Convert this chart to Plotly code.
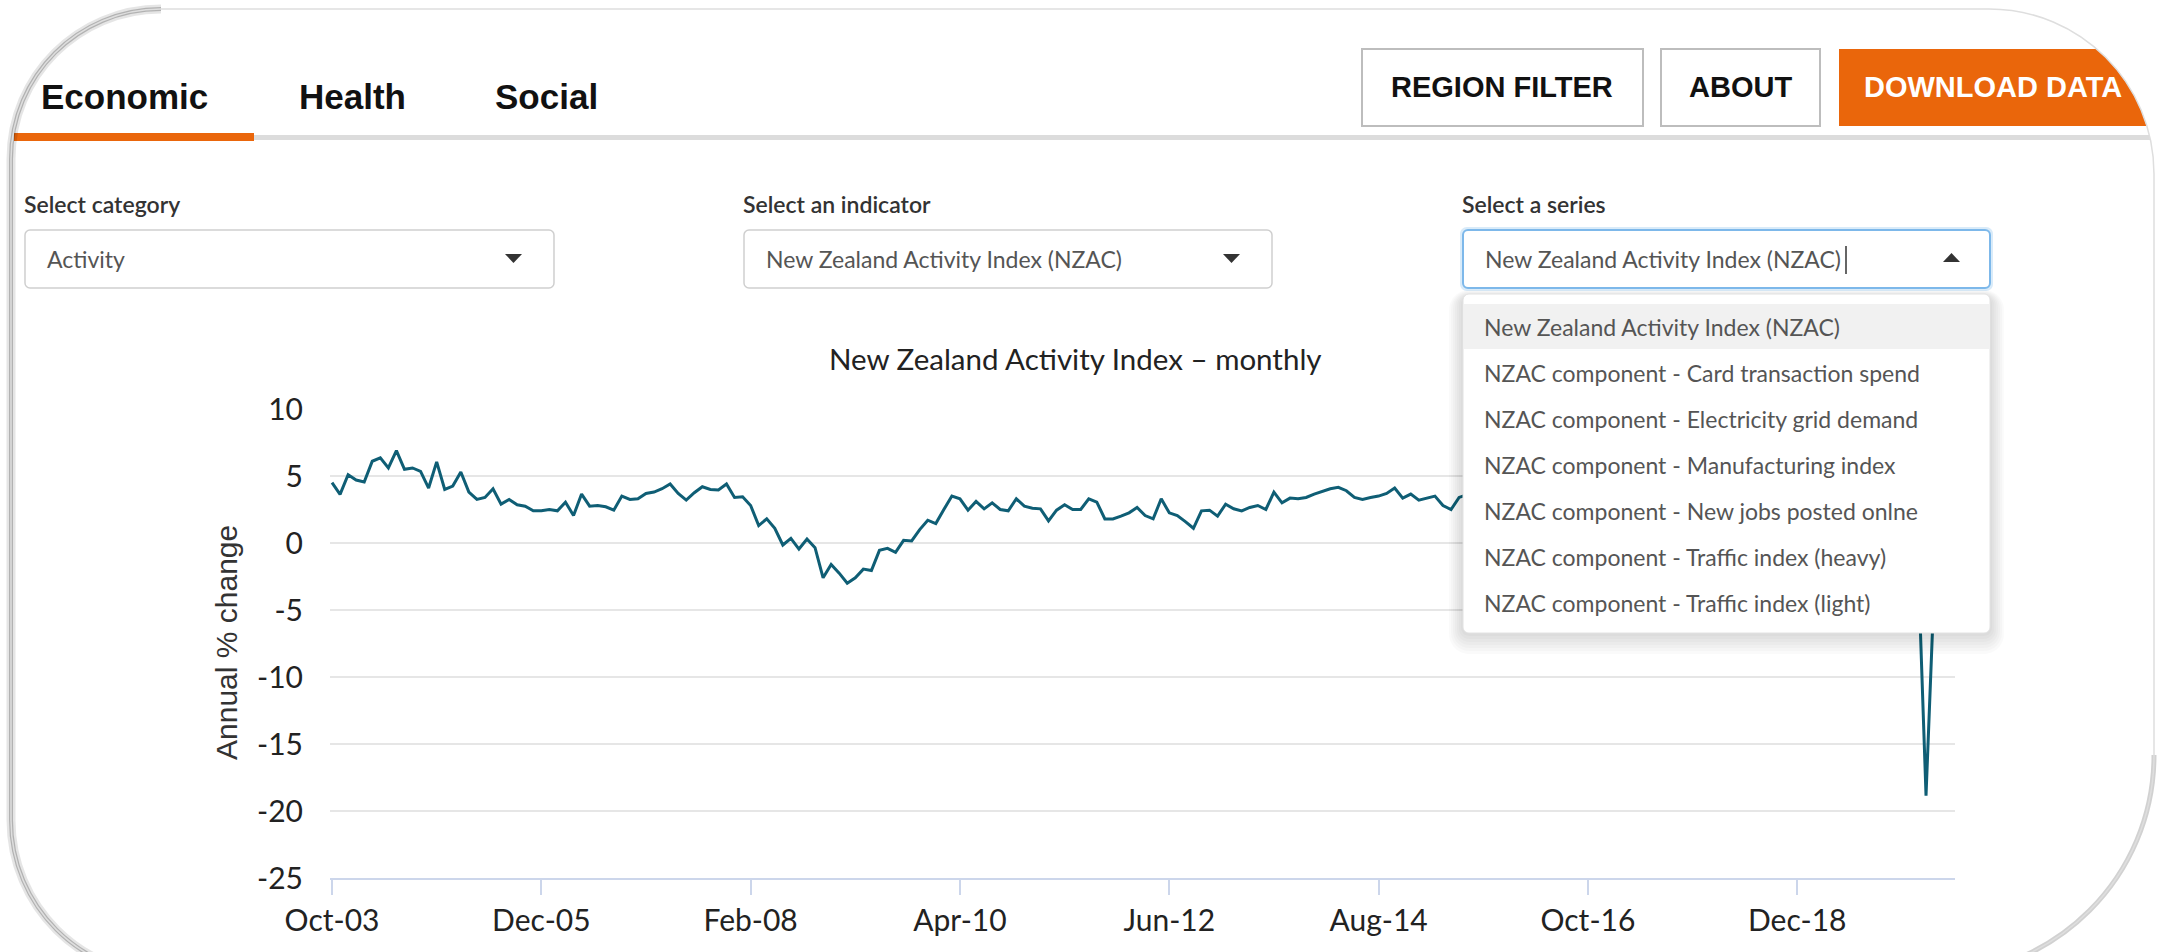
import pandas as pd
import plotly.graph_objects as go

# ---------------- data ----------------
nzac_values = [
    4.5, 3.63, 5.1, 4.7, 4.55, 6.1, 6.35, 5.6, 6.9, 5.5, 5.6, 5.35, 4.1, 6.05, 4.0, 4.25,
    5.3, 3.8, 3.25, 3.4, 4.05, 2.9, 3.25, 2.85, 2.75, 2.4, 2.4, 2.5, 2.4, 3.05, 2.05, 3.65,
    2.75, 2.8, 2.7, 2.45, 3.5, 3.25, 3.3, 3.7, 3.8, 4.05, 4.4, 3.7, 3.2, 3.75, 4.2, 4.0,
    3.95, 4.4, 3.4, 3.45, 2.8, 1.3, 1.8, 1.1, -0.15, 0.35, -0.45, 0.3, -0.35, -2.6, -1.6, -2.25,
    -3.0, -2.6, -1.95, -2.05, -0.55, -0.4, -0.7, 0.2, 0.15, 1.0, 1.7, 1.45, 2.5, 3.5, 3.3, 2.45,
    3.1, 2.55, 3.0, 2.5, 2.4, 3.3, 2.75, 2.6, 2.55, 1.65, 2.45, 2.85, 2.5, 2.5, 3.3,
    3.05, 1.8, 1.8, 2.0, 2.25, 2.65, 2.05, 1.8, 3.3, 2.25, 2.05, 1.6, 1.1, 2.4, 2.45, 2.0,
    2.9, 2.55, 2.4, 2.65, 2.8, 2.5, 3.8, 3.0, 3.35, 3.3, 3.4, 3.65, 3.85, 4.05, 4.15, 3.9,
    3.4, 3.25, 3.4, 3.5, 3.7, 4.1, 3.35, 3.65, 3.2, 3.35, 3.5, 2.8, 2.5, 3.4,
    3.6, 3.2, 3.8, 3.5, 3.9, 3.4, 3.7, 4.0, 3.6, 3.3, 3.8, 3.5, 3.9, 3.4, 3.6, 3.2,
    3.5, 3.1, 3.4, 3.0, 3.3, 2.9, 3.2, 2.8, 3.1, 2.7, 3.0, 2.6, 2.9, 3.2, 2.8, 2.5,
    2.9, 2.6, 2.4, 2.8, 2.5, 2.2, 2.6, 2.3, 2.7, 2.4, 2.1, 2.5, 2.2, 2.6, 2.3, 2.0,
    2.4, 2.1, 2.5, 2.2, 2.0, 2.3, 1.9, 1.6, -1.2, -18.85, -3.5,
]
month_labels = list(pd.date_range("2003-10-01", periods=len(nzac_values), freq="MS").strftime("%b-%y"))
x_tick_labels = ["Oct-03", "Dec-05", "Feb-08", "Apr-10", "Jun-12", "Aug-14", "Oct-16", "Dec-18"]
y_tick_values = [-25, -20, -15, -10, -5, 0, 5, 10]
y_tick_labels = ["-25", "-20", "-15", "-10", "-5", "0", "5", "10"]

chart_title = "New Zealand Activity Index \u2013 monthly"
y_title = "Annual % change"
tabs = ["Economic", "Health", "Social"]
buttons = ["REGION FILTER", "ABOUT", "DOWNLOAD DATA"]
select_labels = ["Select category", "Select an indicator", "Select a series"]
select_values = ["Activity", "New Zealand Activity Index (NZAC)", "New Zealand Activity Index (NZAC)"]
series_options = [
    "New Zealand Activity Index (NZAC)",
    "NZAC component - Card transaction spend",
    "NZAC component - Electricity grid demand",
    "NZAC component - Manufacturing index",
    "NZAC component - New jobs posted onlne",
    "NZAC component - Traffic index (heavy)",
    "NZAC component - Traffic index (light)",
]

# ---------------- helpers ----------------
W, H = 2157, 952
ORANGE = "#EA660B"
LINE = "#0f5e75"


def px(x):
    return x / W


def py(y):
    return 1 - y / H


def P(x, y):
    return f"{px(x):.6f},{py(y):.6f}"


def rrect(x0, y0, x1, y1, r):
    if not isinstance(r, (tuple, list)):
        r = (r, r, r, r)
    tl, tr, br, bl = r
    k = 0.5523
    return (
        f"M{P(x0 + tl, y0)} L{P(x1 - tr, y0)} "
        f"C{P(x1 - tr + k * tr, y0)} {P(x1, y0 + tr - k * tr)} {P(x1, y0 + tr)} "
        f"L{P(x1, y1 - br)} "
        f"C{P(x1, y1 - br + k * br)} {P(x1 - br + k * br, y1)} {P(x1 - br, y1)} "
        f"L{P(x0 + bl, y1)} "
        f"C{P(x0 + bl - k * bl, y1)} {P(x0, y1 - bl + k * bl)} {P(x0, y1 - bl)} "
        f"L{P(x0, y0 + tl)} "
        f"C{P(x0, y0 + tl - k * tl)} {P(x0 + tl - k * tl, y0)} {P(x0 + tl, y0)} Z"
    )


shapes = []
annots = []


def rect(x0, y0, x1, y1, fill, line_color=None, lw=0, r=0):
    shapes.append(dict(
        type="path", xref="paper", yref="paper", layer="above",
        path=rrect(x0, y0, x1, y1, r), fillcolor=fill,
        line=dict(color=line_color or "rgba(0,0,0,0)", width=lw),
    ))


def text(x, y, s, size, color="#333", family="Lato", weight="normal", xanchor="left", yanchor="middle", angle=0):
    if xanchor == "left":
        x -= 3
    annots.append(dict(
        x=px(x), y=py(y), xref="paper", yref="paper", text=s, showarrow=False,
        xanchor=xanchor, yanchor=yanchor, textangle=angle,
        font=dict(size=size, color=color, family=family, weight=weight),
    ))


def tri(points, color="#333"):
    path = "M" + " L".join(P(a, b) for a, b in points) + " Z"
    shapes.append(dict(type="path", xref="paper", yref="paper", layer="above",
                       path=path, fillcolor=color, line=dict(width=0)))


# ---------------- figure ----------------
fig = go.Figure()
fig.add_trace(go.Scatter(
    x=month_labels, y=nzac_values, mode="lines",
    line=dict(color=LINE, width=3), hoverinfo="skip", showlegend=False,
))

# tabs
rect(254, 135, 2160, 140, "#dcdcdc")
rect(14, 133, 254, 141, ORANGE)
for label, x0 in zip(tabs, [42, 300, 496]):
    text(x0, 97, label, 35, "#111", "Liberation Sans", "bold")

# buttons
rect(1362, 49, 1643, 126, "white", "#bdbdbd", 2)
rect(1661, 49, 1820, 126, "white", "#bdbdbd", 2)
rect(1839, 49, 2200, 126, ORANGE)
for label, cx, col in zip(buttons, [1502, 1741, 1993], ["#111", "#111", "white"]):
    text(cx, 87, label, 29, col, "Liberation Sans", "bold", xanchor="center")

# select boxes
box_x = [(25, 554), (744, 1272), (1463, 1990)]
for i, ((x0, x1), lab, val) in enumerate(zip(box_x, select_labels, select_values)):
    text(x0, 204, lab, 23, "#333", "Lato", 600)
    if i == 2:
        rect(x0 - 3, 227, x1 + 3, 291, "rgba(102,175,233,0.25)", r=7)
        rect(x0, 230, x1, 288, "white", "#7db8ea", 2, r=5)
    else:
        rect(x0, 230, x1, 288, "white", "#cfcfcf", 1.5, r=5)
    text(x0 + 23, 259, val, 23, "#555", "Lato")
tri([(505, 254), (522, 254), (513.5, 263)])
tri([(1223, 254), (1240, 254), (1231.5, 263)])
tri([(1943, 262), (1960, 262), (1951.5, 253)])
shapes.append(dict(type="line", xref="paper", yref="paper", layer="above",
                   x0=px(1846), x1=px(1846), y0=py(246), y1=py(274),
                   line=dict(color="#333", width=1.5)))

# dropdown list with shadow
for s in range(7, 0, -1):
    rect(1463 - s * 2, 294 - s + 3, 1990 + s * 2, 633 + s * 3, "rgba(0,0,0,0.018)", r=6 + s * 2)
rect(1463, 294, 1990, 633, "white", "#e2e2e2", 1, r=6)
rect(1464, 304, 1989, 349, "#f1f1f1")
for j, opt in enumerate(series_options):
    text(1485, 327 + 46 * j, opt, 23, "#555", "Lato")

# chart texts
text(1075, 358, chart_title, 29.5, "#222", "Lato", xanchor="center")
text(226, 643, y_title, 30, "#333", "Liberation Sans", xanchor="center", angle=-90)

# frame mask + border
L, T, R, B = 11, 9, 2154, 975
radii = (150, 165, 220, 155)
mask = f"M{P(-30, -30)} L{P(W + 30, -30)} L{P(W + 30, H + 60)} L{P(-30, H + 60)} Z " + rrect(L, T, R, B, radii)
shapes.append(dict(type="path", xref="paper", yref="paper", layer="above", path=mask,
                   fillcolor="white", fillrule="evenodd", line=dict(width=0)))
k = 0.5523
tl, tr, br, bl = radii
left_shadow = (
    f"M{P(L + tl, T)} C{P(L + tl - k * tl, T)} {P(L, T + tl - k * tl)} {P(L, T + tl)} "
    f"L{P(L, B - bl)} C{P(L, B - bl + k * bl)} {P(L + bl - k * bl, B)} {P(L + bl, B)}"
)
shapes.append(dict(type="path", xref="paper", yref="paper", layer="above", path=left_shadow,
                   line=dict(color="rgba(0,0,0,0.10)", width=9)))
shapes.append(dict(type="path", xref="paper", yref="paper", layer="above", path=left_shadow,
                   line=dict(color="rgba(0,0,0,0.22)", width=4)))
br_shadow = f"M{P(R, B - br)} C{P(R, B - br + k * br)} {P(R - br + k * br, B)} {P(R - br, B)}"
shapes.append(dict(type="path", xref="paper", yref="paper", layer="above", path=br_shadow,
                   line=dict(color="rgba(0,0,0,0.18)", width=5)))
shapes.append(dict(type="path", xref="paper", yref="paper", layer="above", path=rrect(L, T, R, B, radii),
                   line=dict(color="#dedede", width=1.5), fillcolor="rgba(0,0,0,0)"))

fig.update_layout(
    width=W, height=H, autosize=False,
    margin=dict(l=0, r=0, t=0, b=0, pad=0),
    paper_bgcolor="white", plot_bgcolor="white",
    template="none",
    showlegend=False,
    shapes=shapes, annotations=annots,
    xaxis=dict(
        domain=[px(330), px(1955)], type="category", range=[-0.25, 201.6],
        tickmode="array", tickvals=x_tick_labels, ticktext=x_tick_labels,
        ticks="outside", ticklen=15, tickwidth=2, tickcolor="#ccd6eb",
        showline=True, linecolor="#ccd6eb", linewidth=2, showgrid=False,
        zeroline=False, automargin=False, fixedrange=True,
        tickfont=dict(family="Lato", size=30, color="#222"),
    ),
    yaxis=dict(
        domain=[py(878), py(409)], range=[-25, 10],
        tickmode="array", tickvals=y_tick_values, ticktext=y_tick_labels,
        ticks="", ticklabelstandoff=26,
        showgrid=True, gridcolor="#e6e6e6", gridwidth=1.5,
        zeroline=False, showline=False, automargin=False, fixedrange=True,
        tickfont=dict(family="Lato", size=30, color="#222"),
    ),
)

fig.write_html("out.html", config={"displayModeBar": False},
               post_script="document.body.style.margin='0';document.body.style.overflow='hidden';")
